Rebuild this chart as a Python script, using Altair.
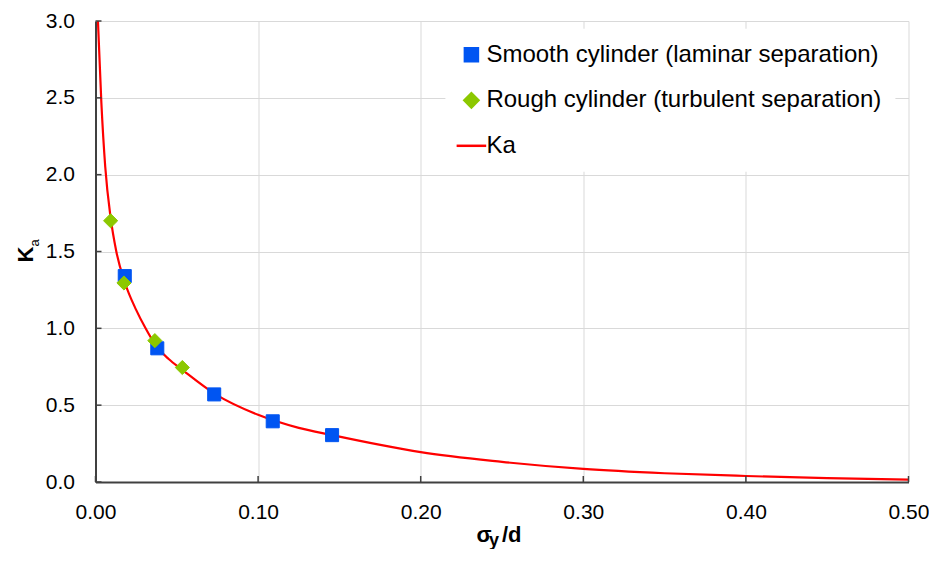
import altair as alt
import pandas as pd

# ---- data ----
smooth_label = "Smooth cylinder (laminar separation)"
rough_label = "Rough cylinder (turbulent separation)"
ka_label = "Ka"

smooth_x = [0.018, 0.038, 0.073, 0.109, 0.1455]
smooth_y = [1.34, 0.87, 0.57, 0.395, 0.305]

rough_x = [0.0093, 0.0175, 0.0365, 0.0534]
rough_y = [1.70, 1.295, 0.92, 0.745]

ka_x = [0.0015, 0.0036, 0.006, 0.0093, 0.0128, 0.018, 0.025, 0.0308, 0.037, 0.045,
        0.0534, 0.0732, 0.1, 0.125, 0.1456, 0.1744, 0.2, 0.25, 0.3, 0.35,
        0.4, 0.45, 0.5]
ka_y = [3.0, 2.47, 2.05, 1.72, 1.5, 1.30, 1.12, 1.0, 0.89, 0.80,
        0.73, 0.575, 0.437, 0.352, 0.305, 0.243, 0.194, 0.131, 0.085, 0.057,
        0.039, 0.025, 0.015]

x_ticks = [0.0, 0.1, 0.2, 0.3, 0.4, 0.5]
y_ticks = [0.0, 0.5, 1.0, 1.5, 2.0, 2.5, 3.0]

# ---- tables ----
points = pd.DataFrame({
    "x": smooth_x + rough_x,
    "y": smooth_y + rough_y,
    "series": [smooth_label] * len(smooth_x) + [rough_label] * len(rough_x),
})
curve = pd.DataFrame({"x": ka_x, "y": ka_y, "series": [ka_label] * len(ka_x)})
xt = pd.DataFrame({"v": x_ticks})
yt = pd.DataFrame({"v": y_ticks})

W, H = 813, 461
PAD_L, PAD_T = 87.5, 13
FONT = "Liberation Sans"
BLUE, GREEN, RED = "#0055F2", "#8CC800", "#FF0000"
domain = [smooth_label, rough_label, ka_label]

color_scale = alt.Scale(domain=domain, range=[BLUE, GREEN, RED])
# long horizontal stroke for the line entry of the legend
shape_scale = alt.Scale(domain=domain, range=["square", "diamond", "M-1.95,0H1.95"])
size_scale = alt.Scale(domain=domain, range=[170, 230, 200])

leg = alt.Legend(
    orient="none", legendX=349.9, legendY=7.8, title=None,
    labelFontSize=24, labelFont=FONT, labelColor="black", labelLimit=600,
    fillColor="white", padding=14, rowPadding=20.5, labelOffset=3,
    symbolStrokeWidth=2.5, symbolOpacity=1, symbolSize=150,
)

xscale = alt.Scale(domain=[0, 0.5], nice=False, zero=False)
yscale = alt.Scale(domain=[0, 3.0], nice=False, zero=False)

x_axis = alt.Axis(
    values=x_ticks, format=".2f", grid=True, gridColor="#D9D9D9", gridWidth=1,
    domainColor="#404040", domainWidth=2, ticks=False, tickSize=0,
    labelFontSize=21, labelFont=FONT, labelColor="black", labelPadding=19,
    labelFlush=False, labelOverlap=False, title=None,
)
y_axis = alt.Axis(
    values=y_ticks, format=".1f", grid=True, gridColor="#D9D9D9", gridWidth=1,
    domainColor="#404040", domainWidth=2, ticks=False, tickSize=0,
    labelFontSize=21, labelFont=FONT, labelColor="black", labelPadding=21,
    labelFlush=False, labelOverlap=False, title=None,
)

line = alt.Chart(curve).mark_line(strokeWidth=2.2, interpolate="monotone", clip=True).encode(
    x=alt.X("x:Q", scale=xscale, axis=x_axis),
    y=alt.Y("y:Q", scale=yscale, axis=y_axis),
    stroke=alt.Stroke("series:N", scale=color_scale, legend=leg),
)

pts = alt.Chart(points).mark_point(filled=True, opacity=1, strokeWidth=1).encode(
    x=alt.X("x:Q", scale=xscale, axis=x_axis),
    y=alt.Y("y:Q", scale=yscale, axis=y_axis),
    fill=alt.Fill("series:N", scale=color_scale, legend=leg),
    stroke=alt.Stroke("series:N", scale=color_scale, legend=leg),
    shape=alt.Shape("series:N", scale=shape_scale, legend=leg),
    size=alt.Size("series:N", scale=size_scale, legend=None),
)

# inward tick marks
xtick_rules = alt.Chart(xt).mark_rule(color="#404040", strokeWidth=1.5).encode(
    x=alt.X("v:Q", scale=xscale, axis=x_axis),
    y=alt.value(H), y2=alt.value(H - 6),
)
ytick_rules = alt.Chart(yt).mark_rule(color="#404040", strokeWidth=1.5).encode(
    y=alt.Y("v:Q", scale=yscale, axis=y_axis),
    x=alt.value(0), x2=alt.value(6),
)

def txt(s, x, y, size, bold=True, angle=0, align="left"):
    return alt.Chart(pd.DataFrame({"t": [s]})).mark_text(
        font=FONT, fontSize=size, fontWeight="bold" if bold else "normal",
        color="black", align=align, baseline="alphabetic", angle=angle,
    ).encode(text="t:N", x=alt.value(x), y=alt.value(y))

# axis titles (with subscripts)
x_title = [
    txt("σ", 381, 521, 22),
    txt("y", 393.5, 525, 18),
    txt("/d", 406.5, 521, 22),
]
y_title = [
    txt("K", -62.5, 233.5, 22, angle=270, align="center"),
    txt("a", -56.5, 222, 13, bold=False, angle=270, align="center"),
]

chart = alt.layer(
    line, pts, xtick_rules, ytick_rules, *x_title, *y_title
).properties(
    width=W, height=H,
    padding={"left": PAD_L, "top": PAD_T, "right": 20.5, "bottom": 67},
    autosize=alt.AutoSizeParams(type="none"),
    background="white",
).configure_view(stroke=None)

chart.save("out.html", embed_options={"renderer": "svg", "actions": False})
